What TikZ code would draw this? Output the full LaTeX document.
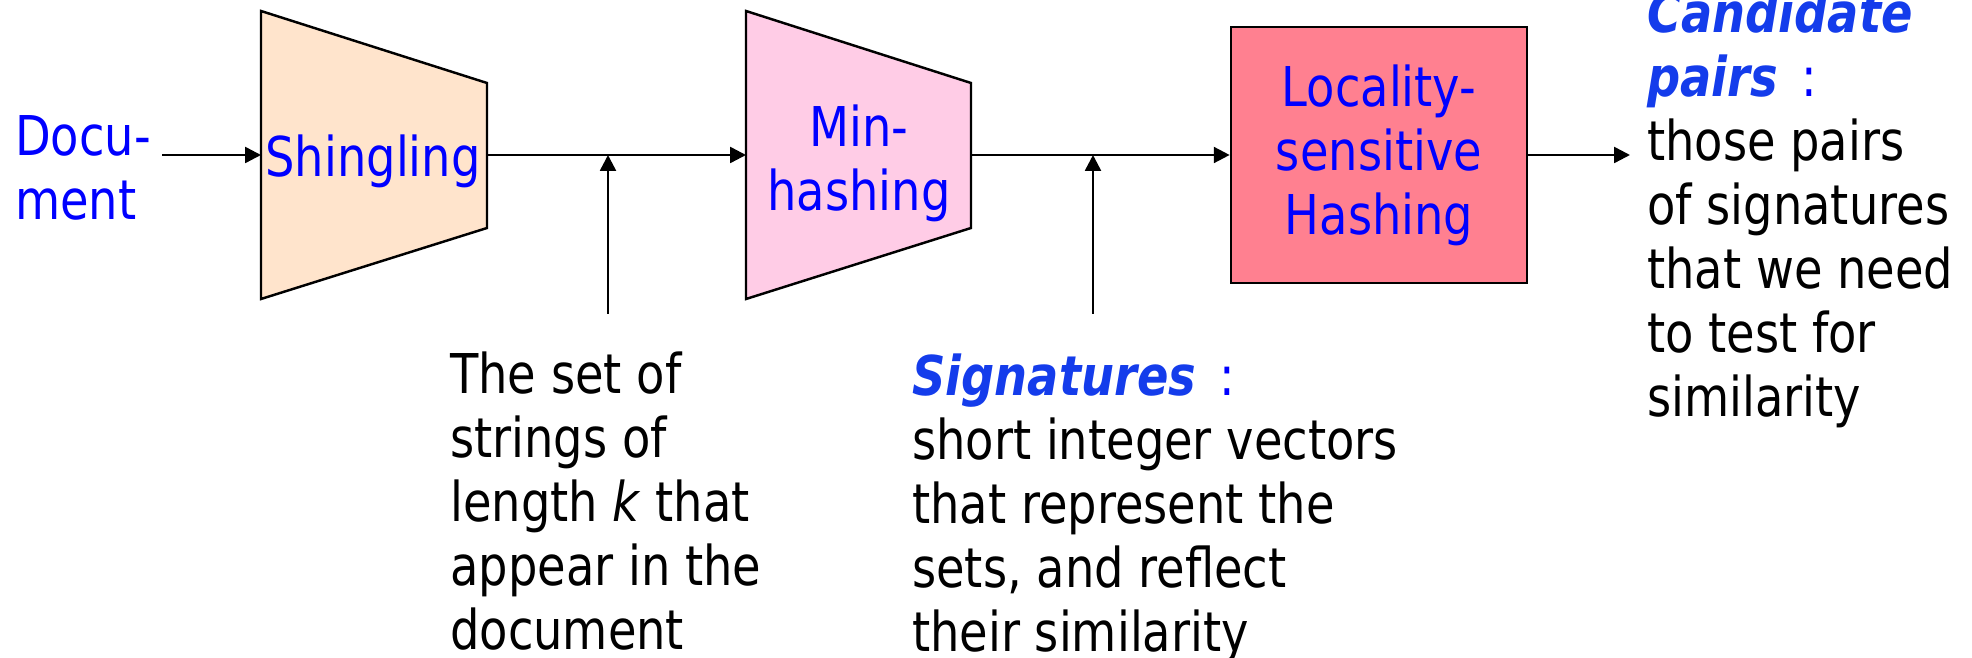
\documentclass[tikz,border=0pt]{standalone}
\usepackage{fontspec}
\setmainfont[FakeStretch=0.845]{DejaVu Sans}
\usepackage{tikz}
\usetikzlibrary{arrows.meta}
\definecolor{shinfill}{RGB}{255,228,204}
\definecolor{minfill}{RGB}{255,204,230}
\definecolor{lshfill}{RGB}{255,128,144}
\definecolor{keyblue}{RGB}{20,60,235}

\begin{document}
\begin{tikzpicture}[x=0.01cm,y=-0.01cm,line width=0.7pt,
  every node/.style={font=\fontsize{15.6}{18.2}\selectfont},
  stagetext/.style={text=blue,align=center,inner sep=0pt},
  note/.style={align=left,inner sep=0pt,anchor=north west},
  flow/.style={-{Triangle[length=4.5pt,width=4.5pt]}}]
\useasboundingbox (0,0) rectangle (1972,658);
% the two funnels
\draw[fill=shinfill] (261,11) -- (487,83) -- (487,228) -- (261,299) -- cycle;
\draw[fill=minfill] (746,11) -- (971,83) -- (971,228) -- (746,299) -- cycle;
\coordinate (shinin) at (261,155);
\coordinate (shinout) at (487,155);
\coordinate (minin) at (746,155);
\coordinate (minout) at (971,155);
\node (shin) [stagetext,anchor=base] at (373,177) {Shingling};
\node (min) [stagetext] at (859,163) {Min-\\hashing};
\node (lsh) [stagetext,draw,text=blue,fill=lshfill,minimum width=2.96cm,minimum height=2.56cm] at (1379,155) {Locality-\\sensitive\\Hashing};
\node (doc) [note,text=blue] at (14,114) {Docu-\\ment};
% notes
\node (shingles) [note] at (449,351) {The set of\\strings of\\length \textit{k} that\\appear in the\\document};
\node (sigs) [note] at (911,353) {\textcolor{keyblue}{\textbf{\textit{Signatures}}}\textcolor{blue}{\ \,:}\\short integer vectors\\that represent the\\sets, and reflect\\their similarity};
\node (pairs) [note] at (1646,-10) {\textcolor{keyblue}{\textbf{\textit{Candidate}}}\\\textcolor{keyblue}{\textbf{\textit{pairs}}}\textcolor{blue}{\ \,:}\\those pairs\\of signatures\\that we need\\to test for\\similarity};
\coordinate (tap1) at (608,155);
\coordinate (feed1) at (608,314);
\coordinate (tap2) at (1093,155);
\coordinate (feed2) at (1093,314);
\coordinate (pairtip) at (1630,155);
% arrows
\draw[flow] ([xshift=0.1cm]doc.east |- shinin) -- (shinin);
\draw[flow] (shinout) -- (minin);
\draw[flow] (minout) -- (lsh.west);
\draw[flow] (lsh.east) -- (pairtip);
\draw[flow] (feed1) -- (tap1);
\draw[flow] (feed2) -- (tap2);
\end{tikzpicture}
\end{document}
